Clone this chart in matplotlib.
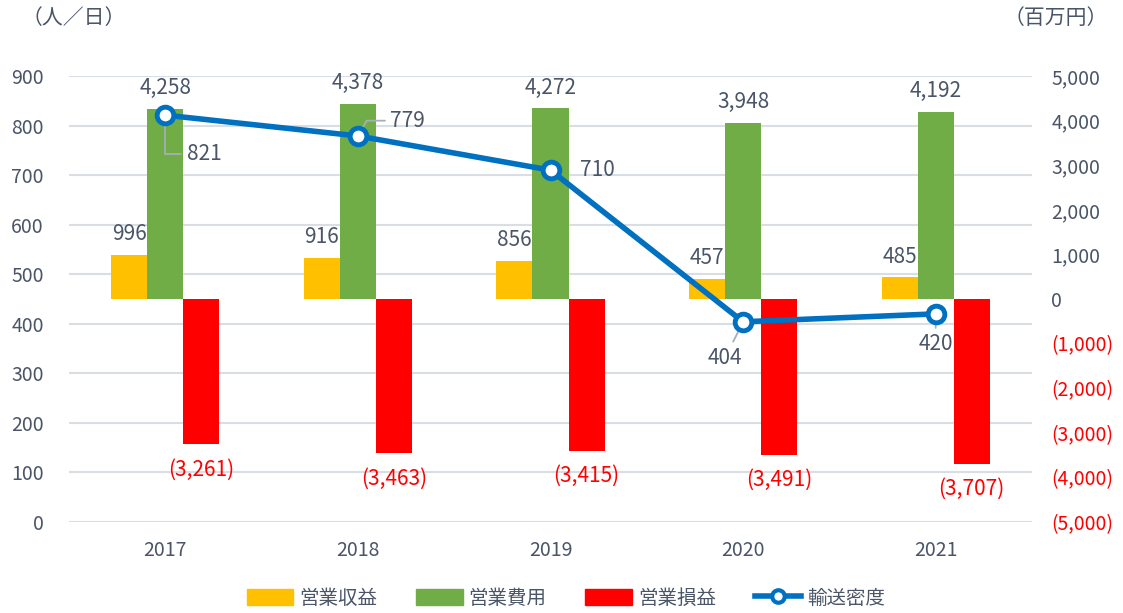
import matplotlib
matplotlib.use("Agg")
import matplotlib.pyplot as plt
from matplotlib.lines import Line2D
from matplotlib.patches import Patch
import numpy as np

plt.rcParams['font.family'] = ['Noto Sans CJK JP', 'DejaVu Sans']

years = ["2017", "2018", "2019", "2020", "2021"]
revenue = [996, 916, 856, 457, 485]          # 営業収益 (百万円)
expenses = [4258, 4378, 4272, 3948, 4192]    # 営業費用 (百万円)
profit = [-3261, -3463, -3415, -3491, -3707] # 営業損益 (百万円)
density = [821, 779, 710, 404, 420]          # 輸送密度 (人/日)

left_ticks = list(range(0, 901, 100))
right_ticks = list(range(-5000, 5001, 1000))

C_YEL = "#FFC000"
C_GRN = "#70AD47"
C_RED = "#FF0000"
C_BLU = "#0070C0"
C_TXT = "#4A5568"
C_GRID = "#D9DEE4"

fig = plt.figure(figsize=(11.23, 6.13), dpi=100)
pos = [69/1123, 1 - 522/613, (1032-69)/1123, (522-76)/613]

# base axis: left scale with gridlines
ax = fig.add_axes(pos)
ax.set_xlim(-0.5, len(years) - 0.5)
ax.set_ylim(0, 900)
ax.set_yticks(left_ticks)
ax.yaxis.grid(True, color=C_GRID, linewidth=1.5)
ax.set_axisbelow(True)
ax.set_xticks(range(len(years)))
ax.set_xticklabels(years)
ax.tick_params(axis='both', length=0, colors=C_TXT, labelsize=14)
ax.tick_params(axis='y', pad=18)
ax.tick_params(axis='x', pad=13)
for s in ax.spines.values():
    s.set_visible(False)

# bars: right scale
ax2 = ax.twinx()
ax2.set_ylim(-5000, 5000)
x = np.arange(len(years))
w = 0.187
ax2.bar(x - w, revenue, w, color=C_YEL, label="営業収益")
ax2.bar(x, expenses, w, color=C_GRN, label="営業費用")
ax2.bar(x + w, profit, w, color=C_RED, label="営業損益")

def fmt(v):
    return f"({abs(v):,})" if v < 0 else f"{v:,}"

ax2.set_yticks(right_ticks)
ax2.set_yticklabels([fmt(v) for v in right_ticks])
for lab, v in zip(ax2.get_yticklabels(), right_ticks):
    lab.set_color(C_RED if v < 0 else C_TXT)
ax2.tick_params(axis='y', length=0, labelsize=14, pad=14)
for s in ax2.spines.values():
    s.set_visible(False)

for xi, v in zip(x - w, revenue):
    ax2.annotate(fmt(v), (xi, v), xytext=(0, 7), textcoords='offset points',
                 ha='center', va='bottom', color=C_TXT, fontsize=15)
for xi, v in zip(x, expenses):
    ax2.annotate(fmt(v), (xi, v), xytext=(0, 7), textcoords='offset points',
                 ha='center', va='bottom', color=C_TXT, fontsize=15)
for xi, v in zip(x + w, profit):
    ax2.annotate(fmt(v), (xi, v), xytext=(0, -10), textcoords='offset points',
                 ha='center', va='top', color=C_RED, fontsize=15)

# line: left scale, on top
ax3 = ax.twinx()
ax3.set_ylim(0, 900)
ax3.set_yticks([])
for s in ax3.spines.values():
    s.set_visible(False)
ax3.plot(x, density, color=C_BLU, linewidth=4, marker='o', markersize=12,
         markerfacecolor='white', markeredgecolor=C_BLU, markeredgewidth=3.5,
         label="輸送密度", zorder=5)

label_offsets = [(28, -28), (36, 11), (34, 0), (-13, -26), (0, -22)]
label_conn = ["angle,angleA=0,angleB=90,rad=0",
              "angle,angleA=0,angleB=60,rad=0",
              None, "arc3", "arc3"]
for xi, v, off, cs in zip(x, density, label_offsets, label_conn):
    ap = None
    if cs is not None:
        ap = dict(arrowstyle='-', color='#A6AEB8', lw=1.3,
                  shrinkA=2, shrinkB=3, connectionstyle=cs)
    ax3.annotate(f"{v:,}", (xi, v), xytext=off, textcoords='offset points',
                 ha='center', va='center', color=C_TXT, fontsize=15,
                 arrowprops=ap, zorder=4)

fig.text(22/1123, 1 - 18/613, "（人／日）", color=C_TXT, fontsize=15,
         ha='left', va='center')
fig.text(1108/1123, 1 - 18/613, "（百万円）", color=C_TXT, fontsize=15,
         ha='right', va='center')

handles = [Patch(color=C_YEL), Patch(color=C_GRN), Patch(color=C_RED),
           Line2D([], [], color=C_BLU, linewidth=4, marker='o', markersize=9,
                  markerfacecolor='white', markeredgecolor=C_BLU,
                  markeredgewidth=3)]
labels = ["営業収益", "営業費用", "営業損益", "輸送密度"]
leg = fig.legend(handles, labels, loc='center', bbox_to_anchor=(566/1123, 1 - 598/613),
                 ncol=4, frameon=False, fontsize=14, handlelength=2.4,
                 handleheight=0.9, columnspacing=2.0, handletextpad=0.3)
for t in leg.get_texts():
    t.set_color(C_TXT)

fig.savefig("out.png", dpi=100)
